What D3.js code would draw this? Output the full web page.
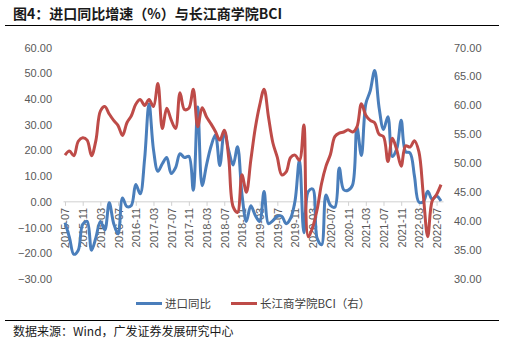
<!DOCTYPE html>
<html><head><meta charset="utf-8">
<script src="https://cdn.jsdelivr.net/npm/d3@7"></script>
<style>body{margin:0;background:#fff;}svg{display:block;font-family:"Liberation Sans",Arial,sans-serif;}</style>
</head><body>
<script>
// ---- data ----
const startYear = 2015, startMonth = 7, nMonths = 86; // 2015-07 .. 2022-08
const months = d3.range(nMonths).map(i => {
  const m = startMonth - 1 + i; const y = startYear + Math.floor(m / 12); const mm = (m % 12) + 1;
  return y + "-" + String(mm).padStart(2, "0");
});
const importYoY = [
  -8.1, -13.8, -20.4, -18.8, -8.7, -7.6,
  -18.8, -13.8, -7.6, -10.9, -0.4, -8.4, -12.5, 1.5, -1.9, -1.4, 6.7, 3.1,
  16.7, 38.1, 20.3, 11.9, 14.8, 17.2, 11.0, 13.3, 18.7, 17.2, 17.7, 4.5,
  36.9, 6.3, 14.4, 21.5, 26.0, 14.1, 27.3, 20.0, 14.3, 21.4, 3.0, -7.6,
  -1.5, -5.2, -7.6, 4.0, -8.5, -7.3, -5.6, -5.6, -8.5, -6.4, 0.3, 16.3,
  -12.0, 4.0, 5.0, -14.2, -16.7, 2.7, -1.4, -2.1, 13.2, 4.7, 4.5, 6.5,
  29.0, 18.0, 38.1, 43.1, 51.1, 36.7, 28.1, 33.1, 17.6, 20.6, 31.7, 19.5,
  19.0, 10.0, -0.1, 0.0, 4.1, 1.0, 2.3, 0.3
];
const bci = [
  51.4, 52.1, 51.3, 53.8, 54.4, 54.0,
  51.3, 54.0, 59.0, 59.8, 58.5, 57.4, 56.5, 54.8, 57.0, 58.2, 60.2, 61.0,
  60.0, 61.0, 59.8, 63.8, 56.0, 59.5, 57.5, 56.0, 62.2, 59.3, 59.5, 62.8,
  56.3, 59.6, 58.0, 56.8, 55.5, 54.0, 55.7, 51.0, 42.5, 41.5, 48.0, 45.0,
  50.5, 56.0, 60.0, 62.8, 58.0, 53.5, 51.0, 48.0, 48.5, 51.0, 51.4, 50.5,
  56.6, 37.3, 39.0, 42.0, 46.5, 49.5, 51.5, 54.6, 55.2, 55.4, 55.8, 55.4,
  56.3, 60.3, 58.3, 57.4, 57.0, 55.0, 54.6, 50.3, 54.3, 52.3, 49.5, 53.0,
  52.8, 53.9, 52.0, 44.5, 37.3, 43.5, 44.6, 46.3
];
const leftTicks = [-30, -20, -10, 0, 10, 20, 30, 40, 50, 60];
const rightTicks = [30, 35, 40, 45, 50, 55, 60, 65, 70];
const xTickLabels = months.filter((d, i) => i % 4 === 0);
const seriesNames = ["进口同比", "长江商学院BCI（右）"];
const colors = ["#4A7EBB", "#BE4B48"];

// ---- drawing ----
const W = 509, H = 345;
const svg = d3.select("body").append("svg").attr("width", W).attr("height", H);

svg.append("text").attr("x", 13).attr("y", 19).attr("font-size", 14).attr("font-weight", "bold")
  .attr("font-family", "'Noto Sans CJK SC',sans-serif").attr("fill", "#1a1a1a")
  .text("图4：进口同比增速（%）与长江商学院BCI");
svg.append("line").attr("x1", 5).attr("x2", 499).attr("y1", 25.5).attr("y2", 25.5).attr("stroke", "#000").attr("stroke-width", 1);

const x = d3.scalePoint().domain(months).range([65, 441]);
const yL = d3.scaleLinear().domain([-30, 60]).range([279, 47.5]);
const yR = d3.scaleLinear().domain([30, 70]).range([279, 47.5]);

// left axis
const gL = svg.append("g").attr("transform", "translate(55,0)")
  .call(d3.axisLeft(yL).tickValues(leftTicks).tickFormat(d3.format(".2f")).tickSize(0).tickPadding(3));
gL.select(".domain").remove();
gL.selectAll("text").attr("font-size", 11).attr("fill", "#595959").attr("font-family", "'Liberation Sans',Arial,sans-serif");

// right axis
const gR = svg.append("g").attr("transform", "translate(452,0)")
  .call(d3.axisRight(yR).tickValues(rightTicks).tickFormat(d3.format(".2f")).tickSize(0).tickPadding(2));
gR.select(".domain").remove();
gR.selectAll("text").attr("font-size", 11).attr("fill", "#595959").attr("font-family", "'Liberation Sans',Arial,sans-serif");

// bottom axis at zero
const y0 = yL(0);
svg.append("line").attr("x1", x.range()[0] - 1.5).attr("x2", x.range()[1] + 2.5)
  .attr("y1", y0).attr("y2", y0).attr("stroke", "#d0d0d0").attr("stroke-width", 1);
const gX = svg.append("g").attr("transform", `translate(0,${y0})`)
  .call(d3.axisBottom(x).tickValues(xTickLabels).tickSize(4));
gX.select(".domain").remove();
gX.selectAll(".tick line").attr("stroke", "#d0d0d0");
gX.selectAll("text").attr("font-size", 11).attr("fill", "#595959")
  .attr("font-family", "'Liberation Sans',Arial,sans-serif")
  .attr("transform", "rotate(-90)").attr("x", -6).attr("y", 0).attr("dy", "0.36em")
  .style("text-anchor", "end");

// lines
const lineL = d3.line().x((d, i) => x(months[i])).y(d => yL(d)).curve(d3.curveCatmullRom.alpha(0.5));
const lineR = d3.line().x((d, i) => x(months[i])).y(d => yR(d)).curve(d3.curveCatmullRom.alpha(0.5));
svg.append("path").datum(importYoY).attr("d", lineL).attr("fill", "none").attr("stroke", colors[0]).attr("stroke-width", 3).attr("stroke-linejoin", "round");
svg.append("path").datum(bci).attr("d", lineR).attr("fill", "none").attr("stroke", colors[1]).attr("stroke-width", 3).attr("stroke-linejoin", "round");

// legend
const legX = [136, 231];
seriesNames.forEach((name, i) => {
  const g = svg.append("g").attr("transform", `translate(${legX[i]},303.5)`);
  g.append("line").attr("x1", 0).attr("x2", 26).attr("stroke", colors[i]).attr("stroke-width", 3);
  g.append("text").attr("x", 29).attr("dy", "0.36em").attr("font-size", 11.5).attr("fill", "#404040")
    .attr("font-family", "'Noto Sans CJK SC',sans-serif").text(name);
});

svg.append("line").attr("x1", 5).attr("x2", 499).attr("y1", 320.5).attr("y2", 320.5).attr("stroke", "#000").attr("stroke-width", 1);
svg.append("text").attr("x", 13).attr("y", 336).attr("font-size", 12).attr("fill", "#1a1a1a")
  .attr("font-family", "'Noto Sans CJK SC',sans-serif").text("数据来源：Wind，广发证券发展研究中心");
</script>
</body></html>
